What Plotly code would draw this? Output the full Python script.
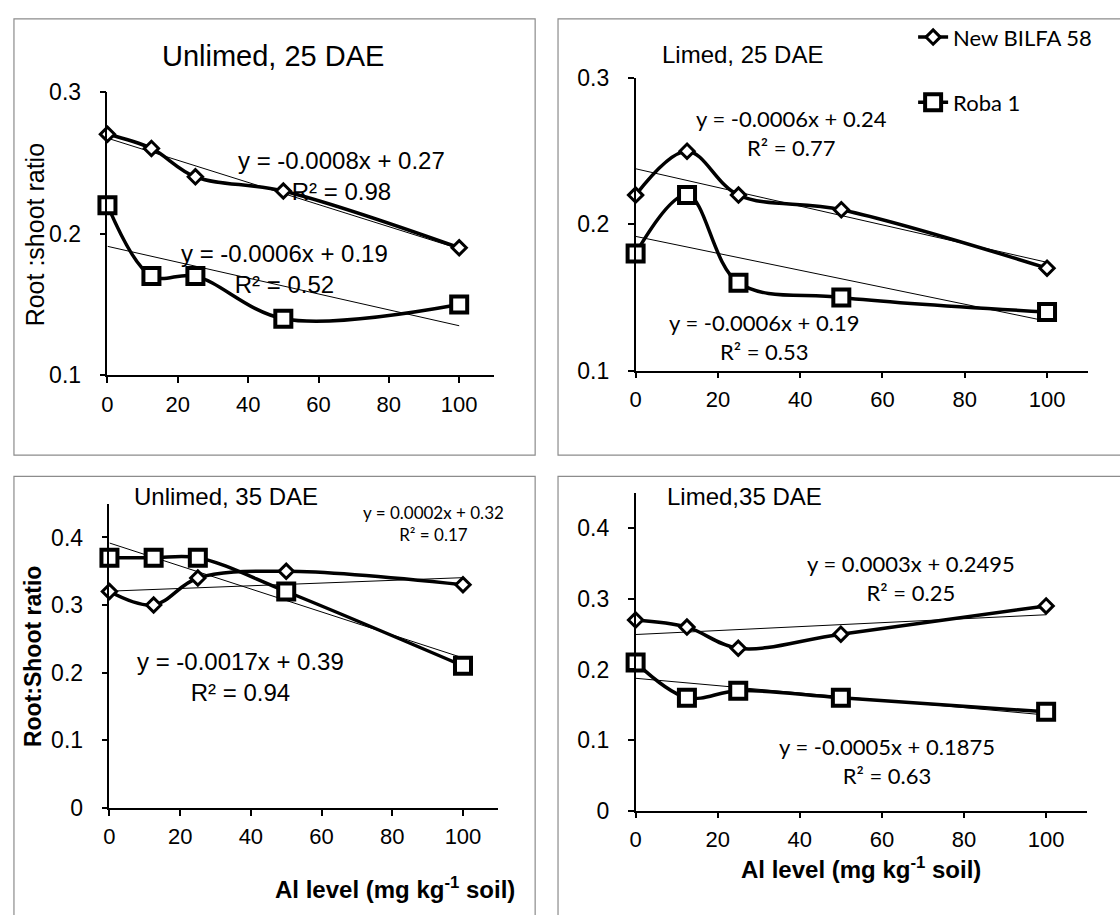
import numpy as np
import plotly.graph_objects as go

W, H = 1120, 915

# ---------------- data ----------------
al_levels = [0, 12.5, 25, 50, 100]
series_names = ["New BILFA 58", "Roba 1"]

unlimed25_bilfa = [0.27, 0.26, 0.24, 0.23, 0.19]
unlimed25_roba = [0.22, 0.17, 0.17, 0.14, 0.15]
limed25_bilfa = [0.22, 0.25, 0.22, 0.21, 0.17]
limed25_roba = [0.18, 0.22, 0.16, 0.15, 0.14]
unlimed35_bilfa = [0.32, 0.30, 0.34, 0.35, 0.33]
unlimed35_roba = [0.37, 0.37, 0.37, 0.32, 0.21]
limed35_bilfa = [0.27, 0.26, 0.23, 0.25, 0.29]
limed35_roba = [0.21, 0.16, 0.17, 0.16, 0.14]

panel_titles = ["Unlimed, 25 DAE", "Limed, 25 DAE", "Unlimed, 35 DAE", "Limed,35 DAE"]
eq_labels = [
    ["y = -0.0008x + 0.27<br>R² = 0.98", "y = -0.0006x + 0.19<br>R² = 0.52"],
    ["y = -0.0006x + 0.24<br>R² = 0.77", "y = -0.0006x + 0.19<br>R² = 0.53"],
    ["y = 0.0002x + 0.32<br>R² = 0.17", "y = -0.0017x + 0.39<br>R² = 0.94"],
    ["y = 0.0003x + 0.2495<br>R² = 0.25", "y = -0.0005x + 0.1875<br>R² = 0.63"],
]
y_ranges = [[0.1, 0.3], [0.1, 0.3], [0, 0.45], [0, 0.45]]
x_range = [0, 110]
x_ticks = [0, 20, 40, 60, 80, 100]

panels = [
    (unlimed25_bilfa, unlimed25_roba),
    (limed25_bilfa, limed25_roba),
    (unlimed35_bilfa, unlimed35_roba),
    (limed35_bilfa, limed35_roba),
]

ARIAL = "Liberation Sans"
CALIBRI = "Lato"

def px(x):
    return x / W

def py(y):
    return 1 - y / H

# plot areas in pixels: (left, right, top, bottom)
areas = [
    (102, 491, 81, 373),
    (633, 1088, 67, 368),
    (104, 495, 505, 818),
    (633, 1087, 494, 821),
]
frames = [
    (8, 532, 6, 455),
    (555, 1130, 6, 455),
    (8, 532, 477, 930),
    (555, 1130, 477, 930),
]

fig = go.Figure()

for i, (bilfa, roba) in enumerate(panels):
    xa = "x" if i == 0 else f"x{i+1}"
    ya = "y" if i == 0 else f"y{i+1}"
    # linear trend lines (least squares of the data)
    for vals in (bilfa, roba):
        k, b = np.polyfit(al_levels, vals, 1)
        xs = [al_levels[0], al_levels[-1]]
        fig.add_trace(go.Scatter(
            x=xs, y=[k * v + b for v in xs], mode="lines",
            line=dict(color="black", width=1), xaxis=xa, yaxis=ya,
            showlegend=False, hoverinfo="skip", cliponaxis=False))
    fig.add_trace(go.Scatter(
        x=al_levels, y=bilfa, mode="lines+markers", name=series_names[0],
        line=dict(color="black", width=3.5, shape="spline", smoothing=1),
        marker=dict(symbol="diamond", size=11, color="white",
                    line=dict(color="black", width=3)),
        xaxis=xa, yaxis=ya, showlegend=(i == 0), legend="legend",
        cliponaxis=False))
    fig.add_trace(go.Scatter(
        x=al_levels, y=roba, mode="lines+markers", name=series_names[1],
        line=dict(color="black", width=3.5, shape="spline", smoothing=1),
        marker=dict(symbol="square", size=16, color="white",
                    line=dict(color="black", width=4)),
        xaxis=xa, yaxis=ya, showlegend=(i == 0), legend="legend2",
        cliponaxis=False))

layout = dict(
    width=W, height=H, margin=dict(l=0, r=0, t=0, b=0),
    paper_bgcolor="white", plot_bgcolor="white",
    font=dict(family=ARIAL, color="black", size=23),
    legend=dict(x=px(912), y=py(25), xanchor="left", yanchor="middle",
                font=dict(family=CALIBRI, size=22), bgcolor="rgba(0,0,0,0)"),
    legend2=dict(x=px(912), y=py(92), xanchor="left", yanchor="middle",
                 font=dict(family=CALIBRI, size=22), bgcolor="rgba(0,0,0,0)"),
)

for i, (l, r, t, b) in enumerate(areas):
    sx = "xaxis" if i == 0 else f"xaxis{i+1}"
    sy = "yaxis" if i == 0 else f"yaxis{i+1}"
    ya = "y" if i == 0 else f"y{i+1}"
    xa = "x" if i == 0 else f"x{i+1}"
    layout[sx] = dict(domain=[px(l), px(r)], range=x_range, tickvals=x_ticks,
                      anchor=ya, showgrid=False, zeroline=False, showline=True,
                      linecolor="black", linewidth=1.5, ticks="outside", ticklen=6,
                      tickwidth=1.5, tickcolor="black", ticklabelstandoff=2,
                      tickfont=dict(family=ARIAL, size=22))
    layout[sy] = dict(domain=[py(b), py(t)], range=y_ranges[i], dtick=0.1, tick0=0,
                      anchor=xa, showgrid=False, zeroline=False, showline=True,
                      linecolor="black", linewidth=1.5, ticks="outside", ticklen=6,
                      tickwidth=1.5, tickcolor="black", ticklabelstandoff=14,
                      tickfont=dict(family=ARIAL, size=23))

fig.update_layout(**layout)

shapes = []
for (l, r, t, b) in frames:
    shapes.append(dict(type="rect", xref="paper", yref="paper",
                       x0=px(l), x1=px(r), y0=py(b), y1=py(t),
                       line=dict(color="#8c8c8c", width=1.2), layer="below"))
fig.update_layout(shapes=shapes)

ann = []
def add(text, x, y, size, family=ARIAL, angle=0, xanchor="center"):
    ann.append(dict(text=text, x=px(x), y=py(y), xref="paper", yref="paper",
                    showarrow=False, font=dict(family=family, size=size, color="black"),
                    textangle=angle, xanchor=xanchor, yanchor="middle", align="center"))

# titles
add(panel_titles[0], 268, 44, 29)
add(panel_titles[1], 740, 43, 24)
add(panel_titles[2], 221, 498, 24)
add(panel_titles[3], 742, 498, 24)
# axis titles
add("Root :shoot ratio", 29, 228, 25, angle=-90)
add("<b>Root:Shoot ratio</b>", 27, 662, 23, angle=-90)
add("<b>Al level (mg kg<sup>-1</sup> soil)</b>", 391, 901, 24)
add("<b>Al level (mg kg<sup>-1</sup> soil)</b>", 860, 880, 24)
# equations
add(eq_labels[0][0], 337, 168, 24)
add(eq_labels[0][1], 280, 264, 24)
add(eq_labels[1][0], 790, 123, 22, family=CALIBRI)
add(eq_labels[1][1], 762, 333, 22, family=CALIBRI)
add(eq_labels[2][0], 430, 525, 17, family=CALIBRI)
add(eq_labels[2][1], 236, 683, 24)
add(eq_labels[3][0], 910, 582, 22, family=CALIBRI)
add(eq_labels[3][1], 886, 770, 22, family=CALIBRI)
fig.update_layout(annotations=ann)

fig.write_html("out.html")
